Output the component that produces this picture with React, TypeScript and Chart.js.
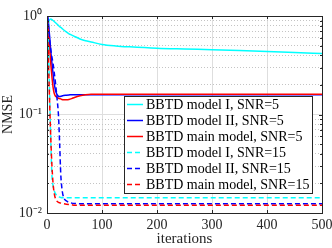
import React, { useEffect, useRef } from 'react';
import { Chart, registerables } from 'chart.js';

Chart.register(...registerables);

// ---- data ----
const iterations = [1, 3, 5, 7, 9, 11, 13, 15, 18, 21, 23, 25, 27, 30, 35, 40, 45, 50, 60, 70, 80, 100, 125, 150, 200, 250, 300, 350, 400, 450, 500];

const modelI_SNR5 = [0.6, 0.85, 0.92, 0.93, 0.92, 0.9, 0.88, 0.86, 0.83, 0.8, 0.78, 0.765, 0.75, 0.725, 0.69, 0.66, 0.64, 0.62, 0.585, 0.56, 0.545, 0.515, 0.497, 0.486, 0.47, 0.462, 0.455, 0.447, 0.437, 0.425, 0.415];
const modelII_SNR5 = [1.0, 0.8, 0.6, 0.43, 0.33, 0.26, 0.21, 0.18, 0.16, 0.153, 0.152, 0.153, 0.154, 0.156, 0.157, 0.158, 0.159, 0.159, 0.159, 0.159, 0.159, 0.159, 0.159, 0.159, 0.159, 0.159, 0.159, 0.159, 0.159, 0.159, 0.159];
const main_SNR5 = [0.9, 0.65, 0.45, 0.32, 0.24, 0.19, 0.165, 0.155, 0.15, 0.146, 0.145, 0.144, 0.142, 0.141, 0.141, 0.142, 0.145, 0.149, 0.155, 0.159, 0.161, 0.161, 0.161, 0.161, 0.161, 0.161, 0.161, 0.161, 0.161, 0.161, 0.161];
const modelI_SNR15 = [0.85, 0.4, 0.14, 0.05, 0.024, 0.019, 0.017, 0.0158, 0.015, 0.0146, 0.0145, 0.0144, 0.0143, 0.0143, 0.0143, 0.0143, 0.0143, 0.0143, 0.0143, 0.0143, 0.0143, 0.0143, 0.0143, 0.0143, 0.0143, 0.0143, 0.0143, 0.0143, 0.0143, 0.0143, 0.0143];
const modelII_SNR15 = [1.0, 0.75, 0.55, 0.45, 0.38, 0.33, 0.27, 0.22, 0.15, 0.095, 0.05, 0.025, 0.018, 0.0145, 0.0133, 0.0128, 0.0126, 0.0125, 0.0124, 0.0124, 0.0124, 0.0124, 0.0124, 0.0124, 0.0124, 0.0124, 0.0124, 0.0124, 0.0124, 0.0124, 0.0124];
const main_SNR15 = [0.8, 0.3, 0.12, 0.055, 0.03, 0.02, 0.016, 0.0142, 0.0132, 0.0128, 0.0127, 0.0126, 0.0125, 0.0124, 0.0123, 0.0122, 0.0121, 0.012, 0.012, 0.012, 0.012, 0.012, 0.012, 0.012, 0.012, 0.012, 0.012, 0.012, 0.012, 0.012, 0.012];

const seriesLabels = [
  'BBTD model I, SNR=5',
  'BBTD model II, SNR=5',
  'BBTD main model, SNR=5',
  'BBTD model I, SNR=15',
  'BBTD model II, SNR=15',
  'BBTD main model, SNR=15',
];
const seriesColors = ['#00ffff', '#0000ff', '#ff0000', '#00ffff', '#0000ff', '#ff0000'];
const seriesDashed = [false, false, false, true, true, true];

const xTickValues = [0, 100, 200, 300, 400, 500];
const yTickValues = [0.01, 0.02, 0.03, 0.04, 0.05, 0.06, 0.07, 0.08, 0.09, 0.1, 0.2, 0.3, 0.4, 0.5, 0.6, 0.7, 0.8, 0.9, 1];

const xTitle = 'iterations';
const yTitle = 'NMSE';

const FONT = "'Liberation Serif', 'Times New Roman', serif";
const AXIS_COLOR = '#262626';

const isDecade = (v: number) => {
  const l = Math.log10(v);
  return Math.abs(l - Math.round(l)) < 1e-6;
};
const SUP: Record<string, string> = { '0': '⁰', '1': '¹', '2': '²', '3': '³', '-': '⁻' };
const decadeLabel = (v: number) =>
  '10' + String(Math.round(Math.log10(v))).split('').map((c) => SUP[c] || c).join('');

export default function App() {
  const ref = useRef<HTMLCanvasElement>(null);

  useEffect(() => {
    const canvas = ref.current;
    if (!canvas) return;
    const allValues = [modelI_SNR5, modelII_SNR5, main_SNR5, modelI_SNR15, modelII_SNR15, main_SNR15];

    const datasets = allValues.map((vals, i) => ({
      label: seriesLabels[i],
      data: iterations.map((x, k) => ({ x, y: vals[k] })),
      borderColor: seriesColors[i],
      backgroundColor: seriesColors[i],
      borderWidth: 1.5,
      borderDash: seriesDashed[i] ? [5, 3] : [],
      pointRadius: 0,
      fill: false,
      cubicInterpolationMode: 'monotone' as const,
      order: allValues.length - i,
    }));

    const framePlugin = {
      id: 'frame',
      afterDatasetsDraw(chart: any) {
        const { ctx, chartArea: a, scales } = chart;
        ctx.save();
        ctx.strokeStyle = AXIS_COLOR;
        ctx.lineWidth = 1;
        ctx.setLineDash([]);
        // ticks inward
        ctx.beginPath();
        xTickValues.forEach((v) => {
          const x = Math.round(scales.x.getPixelForValue(v)) + 0.5;
          ctx.moveTo(x, a.bottom);
          ctx.lineTo(x, a.bottom - 3);
          ctx.moveTo(x, a.top);
          ctx.lineTo(x, a.top + 3);
        });
        yTickValues.forEach((v) => {
          const y = Math.round(scales.y.getPixelForValue(v)) + 0.5;
          const len = isDecade(v) ? 3 : 2;
          ctx.moveTo(a.left, y);
          ctx.lineTo(a.left + len, y);
          ctx.moveTo(a.right, y);
          ctx.lineTo(a.right - len, y);
        });
        ctx.stroke();
        ctx.strokeRect(Math.round(a.left) + 0.5, Math.round(a.top) + 0.5, Math.round(a.right - a.left), Math.round(a.bottom - a.top));

        // legend
        const lx = 124, ly = 96, lw = 188, lh = 97;
        ctx.fillStyle = '#ffffff';
        ctx.fillRect(lx, ly, lw, lh);
        ctx.strokeStyle = AXIS_COLOR;
        ctx.strokeRect(lx + 0.5, ly + 0.5, lw, lh);
        ctx.font = `14px ${FONT}`;
        ctx.textBaseline = 'middle';
        ctx.textAlign = 'left';
        seriesLabels.forEach((label, i) => {
          const cy = ly + 8.5 + i * 16;
          ctx.strokeStyle = seriesColors[i];
          ctx.lineWidth = 1.5;
          ctx.setLineDash(seriesDashed[i] ? [5, 3] : []);
          ctx.beginPath();
          ctx.moveTo(lx + 3, cy);
          ctx.lineTo(lx + 19, cy);
          ctx.stroke();
          ctx.setLineDash([]);
          ctx.fillStyle = '#000000';
          ctx.fillText(label, lx + 22, cy + 0.5);
        });
        ctx.restore();
      },
    };

    const chart = new Chart(canvas, {
      type: 'line',
      data: { datasets },
      options: {
        responsive: false,
        animation: false,
        devicePixelRatio: 1,
        layout: { padding: { left: 0, top: 16, right: 10, bottom: 0 } },
        plugins: { legend: { display: false }, tooltip: { enabled: false } },
        scales: {
          x: {
            type: 'linear',
            min: 0,
            max: 500,
            afterBuildTicks: (s: any) => {
              s.ticks = xTickValues.map((v) => ({ value: v }));
            },
            afterFit: (s: any) => {
              s.height = 35;
              s.paddingLeft = 0;
              s.paddingRight = 0;
            },
            ticks: {
              autoSkip: false,
              maxRotation: 0,
              padding: 4,
              color: AXIS_COLOR,
              font: { family: FONT, size: 14 },
              callback: (v: any) => String(v),
            },
            grid: { color: '#dedede', lineWidth: 1, drawTicks: false },
            border: { display: true, color: AXIS_COLOR },
            title: {
              display: true,
              text: xTitle,
              color: AXIS_COLOR,
              font: { family: FONT, size: 15 },
              padding: { top: 0, bottom: 0 },
            },
          },
          y: {
            type: 'logarithmic',
            min: 0.01,
            max: 1,
            afterBuildTicks: (s: any) => {
              s.ticks = yTickValues.map((v) => ({ value: v, major: isDecade(v) }));
            },
            afterFit: (s: any) => {
              s.width = 47;
              s.paddingTop = 0;
              s.paddingBottom = 0;
            },
            ticks: {
              autoSkip: false,
              padding: 5,
              color: AXIS_COLOR,
              font: { family: FONT, size: 14 },
              callback: (v: any) => (isDecade(Number(v)) ? decadeLabel(Number(v)) : ''),
            },
            grid: {
              drawTicks: false,
              lineWidth: 1,
              color: (c: any) => (c.tick && isDecade(c.tick.value) ? '#dedede' : '#c4c4c4'),
            },
            border: {
              display: true,
              color: AXIS_COLOR,
              dash: (c: any) => (c.tick && !isDecade(c.tick.value) ? [1, 2] : []),
            },
            title: {
              display: true,
              text: yTitle,
              color: AXIS_COLOR,
              font: { family: FONT, size: 14 },
              padding: { top: 0, bottom: 0 },
            },
          },
        },
      },
      plugins: [framePlugin],
    } as any);

    return () => chart.destroy();
  }, []);

  return (
    <div style={{ position: 'fixed', left: 0, top: 0, width: 332, height: 248, background: '#ffffff' }}>
      <canvas ref={ref} width={332} height={248} style={{ display: 'block', width: 332, height: 248 }} />
    </div>
  );
}
